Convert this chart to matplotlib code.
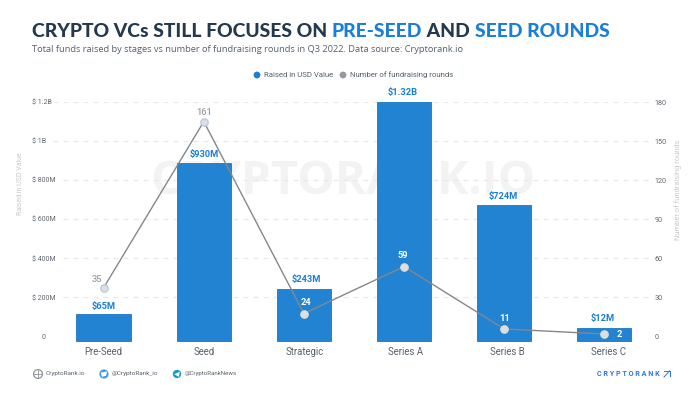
import matplotlib
matplotlib.use("Agg")
import matplotlib.pyplot as plt
from matplotlib.patches import Circle, Polygon
from matplotlib.transforms import ScaledTranslation

categories = ["Pre-Seed", "Seed", "Strategic", "Series A", "Series B", "Series C"]
raised_drawn = [115, 888, 243, 1200, 674, 43]
raised_labels = ["$65M", "$930M", "$243M", "$1.32B", "$724M", "$12M"]
rounds_drawn = [37.5, 165, 17.6, 53.7, 5.8, 1.9]
rounds_labels = ["35", "161", "24", "59", "11", "2"]
left_ticks = [0, 200, 400, 600, 800, 1000, 1200]
left_tick_labels = ["0", "$ 200M", "$ 400M", "$ 600M", "$ 800M", "$ 1B", "$ 1.2B"]
right_ticks = [0, 30, 60, 90, 120, 150, 180]

W, H = 700, 394
BLUE = "#2183d2"
TXTBLUE = "#1a7fd6"
DARK = "#24384e"
GREY = "#85878d"

plt.rcParams["font.family"] = ["Roboto", "DejaVu Sans"]
fig = plt.figure(figsize=(W / 100, H / 100), dpi=100, facecolor="white")

def fx(x): return x / W
def fy(y): return 1 - y / H

AL, AR, AT, AB = 33, 652, 102, 336.5
ax = fig.add_axes([fx(AL), fy(AB), fx(AR) - fx(AL), fy(AT) - fy(AB)])
ax.set_facecolor("none")
ax.set_xlim((AL - 103.7) / 100.1, (AR - 103.7) / 100.1)
ax.set_ylim(0, 1200)
for s in ax.spines.values():
    s.set_visible(False)

ax.yaxis.grid(True, color="#e8e8e8", lw=0.9, ls=(0, (4, 4)))
ax.set_axisbelow(True)
ax.set_yticks(left_ticks, left_tick_labels)
ax.tick_params(axis="y", length=0, pad=0.5, labelsize=5.0, labelcolor="#5f6670")
for lab, t in zip(ax.get_yticklabels(), left_ticks):
    lab.set_ha("left" if t else "right")
    lab.set_x(0 if t else 0.021)
    lab.set_bbox(dict(fc="white", ec="none", pad=2))

xs = list(range(len(categories)))
ax.bar(xs, [v + 25 for v in raised_drawn], bottom=-25, width=0.545,
       color=BLUE, edgecolor="#1b76c4", lw=0.6, clip_on=False, zorder=3)
ax.set_xticks(xs, categories)
ax.tick_params(axis="x", length=0, pad=7.4, labelsize=6.9, labelcolor="#57606b")
for lab, dx in zip(ax.get_xticklabels(), [0, 0, 1, 2, 3, 4]):
    lab.set_transform(lab.get_transform() + ScaledTranslation(dx / 100, 0, fig.dpi_scale_trans))

ax.text(0.5, 0.66, "CRYPTORANK.IO", transform=ax.transAxes, ha="center", va="center",
        fontsize=34, fontweight="bold", family="Open Sans", color="#f3f3f3", zorder=0.4)

ax2 = ax.twinx()
ax2.set_facecolor("none")
ax2.set_ylim(0, 180)
ax2.set_yticks(right_ticks)
ax2.tick_params(axis="y", length=0, pad=2, labelsize=5.2, labelcolor="#5f6670")
for s in ax2.spines.values():
    s.set_visible(False)
ax2.plot(xs, rounds_drawn, color=GREY, lw=1.0, zorder=5, clip_on=False)
edge = ["#a9c8e6", "#a9c8e6", "#dddddd", "#dddddd", "#dddddd", "#dddddd"]
for x, y, e in zip(xs, rounds_drawn, edge):
    ax2.plot([x], [y], "o", ms=5.4, mfc="#dedede", mec=e, mew=0.8, zorder=6, clip_on=False)

# value labels, offsets in points
raised_off = [(0, 5.3), (0, 6), (1.4, 6.7), (-0.7, 6.7), (-0.7, 6.3), (-1, 6.7)]
for x, v, t, o in zip(xs, raised_drawn, raised_labels, raised_off):
    ax.annotate(t, (x, v), xytext=o, textcoords="offset points", ha="center",
                va="center", fontsize=6.7, fontweight="bold", color=TXTBLUE, zorder=7)
round_cols = ["#9a9ea5", "#9a9ea5", "white", "white", "white", "white"]
round_off = [(-5, 6), (0.5, 6.5), (1.4, 8.3), (-1, 8.3), (0, 7.2), (11, 0)]
for x, v, t, c, o in zip(xs, rounds_drawn, rounds_labels, round_cols, round_off):
    ax2.annotate(t, (x, v), xytext=o, textcoords="offset points", ha="center",
                 va="center", fontsize=6.7, fontweight="medium" if c != "white" else "bold",
                 color=c, zorder=7)

# axis titles
fig.text(fx(21), fy(184), "Raised in USD Value", rotation=90, ha="center", va="center",
         fontsize=5.0, color="#c9c9c9")
fig.text(fx(678), fy(190), "Number of fundraising rounds", rotation=90, ha="center", va="center",
         fontsize=5.4, color="#c9c9c9")

# title built from coloured runs
runs = [("CRYPTO VCs STILL FOCUSES ON ", DARK), ("PRE-SEED", TXTBLUE), (" AND ", DARK),
        ("SEED ROUNDS", TXTBLUE)]
renderer = fig.canvas.get_renderer()
cx = 32
for s, c in runs:
    t = fig.text(fx(cx), fy(37), s.replace(" ", "\u00a0"), fontsize=13.9, family="Lato",
                 fontweight="black", color=c, ha="left", va="baseline")
    cx = t.get_window_extent(renderer).x1

fig.text(fx(32), fy(52), "Total funds raised by stages vs number of fundraising rounds in Q3 2022. Data source: Cryptorank.io",
         fontsize=6.7, family="Open Sans", color="#56606c", ha="left", va="baseline")

# legend and footer in a pixel overlay
leg = fig.add_axes([0, 0, 1, 1], facecolor="none")
leg.set_xlim(0, W); leg.set_ylim(H, 0); leg.axis("off")
leg.add_patch(Circle((257, 75), 3.4, fc="#1b7fd6", ec="none"))
leg.text(264, 75, "Raised in USD Value", fontsize=5.55, color="#56606c", va="center")
leg.add_patch(Circle((343, 75), 3.4, fc="#96979f", ec="none"))
leg.text(350, 75, "Number of fundraising rounds", fontsize=5.55, color="#56606c", va="center")

leg.add_patch(Circle((38, 374), 4.4, fc="white", ec="#8f959c", lw=0.9))
leg.plot([33.6, 42.4], [374, 374], color="#8f959c", lw=0.6)
leg.plot([38, 38], [369.6, 378.4], color="#8f959c", lw=0.6)
leg.text(46, 374, "CryptoRank.io", fontsize=4.6, color="#59626d", va="center")
leg.add_patch(Circle((104, 374), 4.6, fc="#3f9ce8", ec="none"))
leg.add_patch(Polygon([(100.8, 372.5), (107.4, 371.5), (106, 375.8), (102, 376.8)], fc="white", ec="none"))
leg.text(112, 374, "@CryptoRank_io", fontsize=4.6, color="#59626d", va="center")
leg.add_patch(Circle((177, 374), 4.2, fc="#12a0c4", ec="none"))
leg.add_patch(Polygon([(174.3, 374.2), (179.8, 371.8), (178.8, 376.8)], fc="white", ec="none"))
leg.text(185, 374, "@CryptoRankNews", fontsize=4.4, color="#59626d", va="center")
leg.text(597, 374.5, "C R Y P T O R A N K", fontsize=5.2, fontweight="bold", color="#2f74e6", va="center")
leg.plot([664, 669.5, 669.5], [371, 371, 371], color="#2f74e6", lw=0.7)
leg.plot([669.5, 669.5], [371, 376], color="#2f74e6", lw=0.7)
leg.plot([664, 669.5], [377, 371], color="#2f74e6", lw=0.7)
leg.set_xlim(0, W); leg.set_ylim(H, 0)

fig.savefig("out.png", dpi=100)
